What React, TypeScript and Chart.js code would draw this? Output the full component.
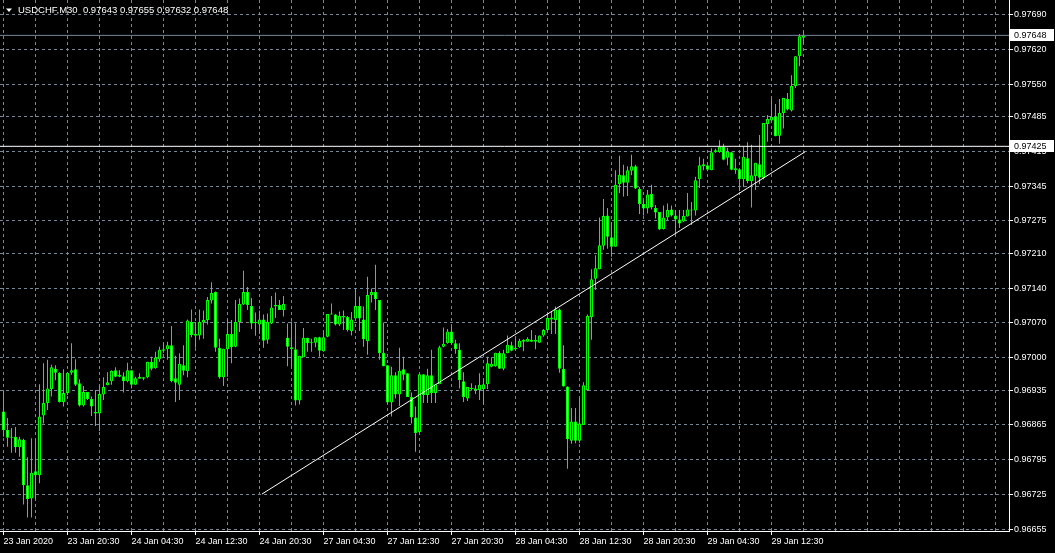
import React, { useEffect, useRef } from "react";
import { Chart, registerables } from "chart.js";

Chart.register(...registerables);

const SYMBOL = "USDCHF,M30";
const LAST_OHLC = ["0.97643", "0.97655", "0.97632", "0.97648"];

const OPEN = [
  0.96892, 0.96855, 0.96839, 0.96841, 0.96820, 0.96835, 0.96744, 0.96717, 0.96772, 0.96764,
  0.96884, 0.96909, 0.96937, 0.96978, 0.96970, 0.96911, 0.96929, 0.96970, 0.96977, 0.96949,
  0.96904, 0.96931, 0.96917, 0.96891, 0.96888, 0.96926, 0.96945, 0.96953, 0.96975, 0.96966,
  0.96963, 0.96953, 0.96975, 0.96946, 0.96958, 0.96958, 0.96961, 0.96992, 0.96979, 0.96997,
  0.97014, 0.97017, 0.97025, 0.96959, 0.96946, 0.96985, 0.96973, 0.97072, 0.97048, 0.97045,
  0.97071, 0.97076, 0.97115, 0.97132, 0.97020, 0.96961, 0.97017, 0.97048, 0.97022, 0.97072,
  0.97107, 0.97132, 0.97104, 0.97072, 0.97067, 0.97077, 0.97036, 0.97069, 0.97106, 0.97106,
  0.97096, 0.97040, 0.97021, 0.97017, 0.96914, 0.97001, 0.97040, 0.97030, 0.97030, 0.97041,
  0.97013, 0.97042, 0.97087, 0.97087, 0.97067, 0.97084, 0.97082, 0.97054, 0.97079, 0.97104,
  0.97077, 0.97033, 0.97126, 0.97132, 0.97116, 0.97010, 0.96985, 0.96910, 0.96965, 0.96926,
  0.96977, 0.96969, 0.96921, 0.96880, 0.96851, 0.96967, 0.96925, 0.96965, 0.96929, 0.96947,
  0.97022, 0.97029, 0.97053, 0.97029, 0.97016, 0.96953, 0.96918, 0.96939, 0.96938, 0.96935,
  0.96937, 0.96947, 0.96982, 0.96983, 0.97010, 0.96978, 0.97009, 0.97025, 0.97020, 0.97021,
  0.97036, 0.97032, 0.97036, 0.97032, 0.97030, 0.97045, 0.97056, 0.97077, 0.97076, 0.97097,
  0.96978, 0.96942, 0.96833, 0.96872, 0.96833, 0.96865, 0.96935, 0.97082, 0.97159, 0.97178,
  0.97225, 0.97286, 0.97242, 0.97223, 0.97349, 0.97367, 0.97352, 0.97376, 0.97385, 0.97339,
  0.97309, 0.97300, 0.97329, 0.97301, 0.97293, 0.97259, 0.97282, 0.97298, 0.97286, 0.97278,
  0.97274, 0.97284, 0.97298, 0.97296, 0.97359, 0.97385, 0.97387, 0.97377, 0.97413, 0.97413,
  0.97424, 0.97402, 0.97413, 0.97381, 0.97379, 0.97359, 0.97401, 0.97355, 0.97365, 0.97389,
  0.97362, 0.97470, 0.97477, 0.97485, 0.97446, 0.97492, 0.97520, 0.97497, 0.97546, 0.97606,
  0.97643,
];

const HIGH = [
  0.96932, 0.96879, 0.96859, 0.96861, 0.96841, 0.96837, 0.96800, 0.96838, 0.96835, 0.96947,
  0.96989, 0.96996, 0.96986, 0.96985, 0.96971, 0.96977, 0.96971, 0.97029, 0.96997, 0.96957,
  0.96943, 0.96931, 0.96922, 0.96935, 0.96942, 0.96961, 0.96971, 0.96975, 0.96981, 0.96975,
  0.96971, 0.96990, 0.96975, 0.96962, 0.96969, 0.96961, 0.96992, 0.97002, 0.97012, 0.97022,
  0.97030, 0.97032, 0.97064, 0.97004, 0.97009, 0.97025, 0.97077, 0.97097, 0.97072, 0.97097,
  0.97095, 0.97122, 0.97152, 0.97133, 0.97038, 0.97018, 0.97076, 0.97076, 0.97116, 0.97119,
  0.97175, 0.97142, 0.97120, 0.97091, 0.97095, 0.97087, 0.97089, 0.97124, 0.97131, 0.97116,
  0.97124, 0.97069, 0.97073, 0.97069, 0.97004, 0.97060, 0.97040, 0.97038, 0.97041, 0.97042,
  0.97054, 0.97088, 0.97109, 0.97088, 0.97093, 0.97095, 0.97084, 0.97092, 0.97139, 0.97123,
  0.97103, 0.97163, 0.97139, 0.97187, 0.97116, 0.97071, 0.96985, 0.96982, 0.96971, 0.97020,
  0.97002, 0.96969, 0.96930, 0.96902, 0.96967, 0.96967, 0.96978, 0.97016, 0.96947, 0.97024,
  0.97061, 0.97058, 0.97062, 0.97036, 0.97029, 0.96971, 0.96941, 0.96949, 0.96945, 0.96969,
  0.96959, 0.97002, 0.97001, 0.97010, 0.97013, 0.97016, 0.97045, 0.97032, 0.97041, 0.97038,
  0.97037, 0.97041, 0.97056, 0.97046, 0.97045, 0.97058, 0.97088, 0.97092, 0.97103, 0.97099,
  0.97025, 0.96942, 0.96899, 0.96899, 0.96919, 0.96951, 0.97087, 0.97178, 0.97206, 0.97282,
  0.97319, 0.97301, 0.97273, 0.97377, 0.97406, 0.97388, 0.97385, 0.97408, 0.97388, 0.97343,
  0.97317, 0.97337, 0.97348, 0.97307, 0.97293, 0.97306, 0.97310, 0.97306, 0.97297, 0.97297,
  0.97297, 0.97331, 0.97313, 0.97364, 0.97404, 0.97400, 0.97387, 0.97421, 0.97420, 0.97437,
  0.97430, 0.97422, 0.97414, 0.97400, 0.97379, 0.97424, 0.97433, 0.97428, 0.97392, 0.97448,
  0.97472, 0.97488, 0.97520, 0.97510, 0.97520, 0.97522, 0.97532, 0.97568, 0.97606, 0.97651,
  0.97655,
];

const LOW = [
  0.96841, 0.96821, 0.96809, 0.96809, 0.96801, 0.96705, 0.96679, 0.96679, 0.96716, 0.96748,
  0.96868, 0.96895, 0.96922, 0.96955, 0.96910, 0.96902, 0.96925, 0.96966, 0.96943, 0.96902,
  0.96902, 0.96915, 0.96883, 0.96863, 0.96853, 0.96915, 0.96945, 0.96946, 0.96961, 0.96961,
  0.96930, 0.96951, 0.96938, 0.96946, 0.96958, 0.96955, 0.96959, 0.96975, 0.96978, 0.96992,
  0.97010, 0.96996, 0.96951, 0.96911, 0.96915, 0.96965, 0.96961, 0.97041, 0.97020, 0.97036,
  0.97038, 0.97067, 0.97109, 0.97012, 0.96958, 0.96943, 0.96962, 0.96989, 0.97021, 0.97052,
  0.97106, 0.97096, 0.97058, 0.97044, 0.97048, 0.97020, 0.97028, 0.97068, 0.97080, 0.97096,
  0.97083, 0.96983, 0.96982, 0.96904, 0.96906, 0.97001, 0.97012, 0.97012, 0.97021, 0.97002,
  0.97012, 0.97041, 0.97087, 0.97065, 0.97064, 0.97056, 0.97053, 0.97045, 0.97077, 0.97054,
  0.97022, 0.97006, 0.97111, 0.97096, 0.96996, 0.96983, 0.96907, 0.96882, 0.96918, 0.96903,
  0.96955, 0.96921, 0.96868, 0.96811, 0.96849, 0.96909, 0.96909, 0.96909, 0.96909, 0.96947,
  0.97021, 0.97028, 0.97028, 0.97008, 0.96938, 0.96911, 0.96913, 0.96934, 0.96927, 0.96915,
  0.96906, 0.96937, 0.96981, 0.96982, 0.96978, 0.96975, 0.97009, 0.97013, 0.97016, 0.97020,
  0.97013, 0.97032, 0.97032, 0.97017, 0.97030, 0.97042, 0.97054, 0.97048, 0.97048, 0.96970,
  0.96942, 0.96777, 0.96827, 0.96828, 0.96829, 0.96865, 0.96933, 0.97036, 0.97136, 0.97178,
  0.97217, 0.97219, 0.97203, 0.97223, 0.97331, 0.97324, 0.97325, 0.97367, 0.97339, 0.97289,
  0.97286, 0.97290, 0.97298, 0.97280, 0.97257, 0.97258, 0.97277, 0.97284, 0.97251, 0.97261,
  0.97273, 0.97284, 0.97267, 0.97286, 0.97341, 0.97377, 0.97375, 0.97377, 0.97412, 0.97412,
  0.97397, 0.97387, 0.97377, 0.97370, 0.97335, 0.97343, 0.97351, 0.97302, 0.97337, 0.97349,
  0.97359, 0.97434, 0.97477, 0.97445, 0.97430, 0.97461, 0.97497, 0.97495, 0.97542, 0.97586,
  0.97632,
];

const CLOSE = [
  0.96855, 0.96839, 0.96841, 0.96820, 0.96836, 0.96744, 0.96716, 0.96769, 0.96764, 0.96882,
  0.96909, 0.96938, 0.96981, 0.96970, 0.96911, 0.96929, 0.96970, 0.96975, 0.96946, 0.96904,
  0.96931, 0.96917, 0.96902, 0.96888, 0.96927, 0.96941, 0.96951, 0.96974, 0.96962, 0.96962,
  0.96953, 0.96975, 0.96946, 0.96959, 0.96962, 0.96961, 0.96992, 0.96978, 0.97001, 0.97016,
  0.97017, 0.97025, 0.96953, 0.96950, 0.96988, 0.96974, 0.97075, 0.97046, 0.97044, 0.97072,
  0.97076, 0.97116, 0.97130, 0.97020, 0.96961, 0.97018, 0.97048, 0.97021, 0.97072, 0.97108,
  0.97132, 0.97106, 0.97069, 0.97070, 0.97077, 0.97034, 0.97072, 0.97101, 0.97103, 0.97096,
  0.97108, 0.97022, 0.97017, 0.96914, 0.97004, 0.97040, 0.97029, 0.97029, 0.97041, 0.97014,
  0.97041, 0.97088, 0.97089, 0.97067, 0.97084, 0.97081, 0.97056, 0.97077, 0.97104, 0.97079,
  0.97037, 0.97126, 0.97132, 0.97118, 0.97009, 0.96983, 0.96910, 0.96965, 0.96926, 0.96974,
  0.96966, 0.96921, 0.96880, 0.96849, 0.96967, 0.96925, 0.96965, 0.96929, 0.96947, 0.97021,
  0.97028, 0.97053, 0.97029, 0.97017, 0.96955, 0.96921, 0.96941, 0.96937, 0.96934, 0.96946,
  0.96947, 0.96989, 0.96988, 0.97010, 0.96978, 0.97009, 0.97026, 0.97014, 0.97017, 0.97034,
  0.97032, 0.97038, 0.97032, 0.97036, 0.97045, 0.97056, 0.97080, 0.97081, 0.97097, 0.96978,
  0.96942, 0.96836, 0.96872, 0.96833, 0.96868, 0.96945, 0.97084, 0.97158, 0.97180, 0.97226,
  0.97285, 0.97243, 0.97223, 0.97348, 0.97368, 0.97352, 0.97377, 0.97385, 0.97340, 0.97309,
  0.97300, 0.97328, 0.97302, 0.97292, 0.97258, 0.97282, 0.97297, 0.97286, 0.97278, 0.97270,
  0.97285, 0.97298, 0.97296, 0.97357, 0.97387, 0.97389, 0.97378, 0.97413, 0.97417, 0.97424,
  0.97398, 0.97414, 0.97378, 0.97377, 0.97359, 0.97404, 0.97355, 0.97367, 0.97392, 0.97362,
  0.97472, 0.97480, 0.97484, 0.97445, 0.97492, 0.97522, 0.97499, 0.97546, 0.97606, 0.97646,
  0.97648,
];

const X_GRID_BARS = [
  0, 8, 16, 24, 32, 40, 48, 56, 64, 72, 80, 88, 96, 104, 112, 120,
  128, 136, 144, 152, 160, 168, 176, 184, 192, 200, 208, 216, 224, 232, 240, 248,
];
const X_LABEL_BARS = [0, 16, 32, 48, 64, 80, 96, 112, 128, 144, 160, 176, 192];
const X_TICK_LABELS = [
  "23 Jan 2020", "23 Jan 20:30", "24 Jan 04:30", "24 Jan 12:30", "24 Jan 20:30",
  "27 Jan 04:30", "27 Jan 12:30", "27 Jan 20:30", "28 Jan 04:30", "28 Jan 12:30",
  "28 Jan 20:30", "29 Jan 04:30", "29 Jan 12:30",
];

const Y_TICK_VALUES = [
  0.96655, 0.96725, 0.96795, 0.96865, 0.96935, 0.97000, 0.97070, 0.97140,
  0.97210, 0.97275, 0.97345, 0.97415, 0.97485, 0.97550, 0.97620, 0.97690,
];
const Y_TICK_LABELS = [
  "0.96655", "0.96725", "0.96795", "0.96865", "0.96935", "0.97000", "0.97070", "0.97140",
  "0.97210", "0.97275", "0.97345", "0.97415", "0.97485", "0.97550", "0.97620", "0.97690",
];

const BID_PRICE = 0.97648;
const LEVEL_PRICE = 0.97425;
const TREND_BARS = [64.6, 200.4];
const TREND_PRICES = [0.96726, 0.97414];

const FONT = '"Liberation Sans", Arial, sans-serif';
const LIME = "#00ff00";
const GRID = "#778899";

export default function App() {
  const ref = useRef<HTMLCanvasElement>(null);

  useEffect(() => {
    document.body.style.margin = "0";
    document.body.style.background = "#000";
    const canvas = ref.current;
    if (!canvas) return;

    const X_MIN = -0.875;
    const X_MAX = 251.375;
    const Y_MIN = 0.966518;
    const Y_MAX = 0.977191;

    const idx = OPEN.map((_, i) => i);
    const bodyData = idx.map((i) => ({ x: i, y: [OPEN[i], CLOSE[i]] }));
    const wickData = idx.map((i) => ({ x: i, y: [LOW[i], HIGH[i]] }));
    const bodyFill = idx.map((i) => (CLOSE[i] >= OPEN[i] ? "#000000" : "#ffffff"));

    const overlay = {
      id: "mt4overlay",
      afterDraw(chart: any) {
        const { ctx, scales } = chart;
        const ys = scales.y;
        ctx.save();
        ctx.fillStyle = "#ffffff";
        ctx.beginPath();
        ctx.moveTo(6, 8.5);
        ctx.lineTo(12, 8.5);
        ctx.lineTo(9, 12);
        ctx.closePath();
        ctx.fill();
        ctx.font = `9.5px ${FONT}`;
        ctx.textBaseline = "middle";
        ctx.textAlign = "left";
        ctx.fillText(`${SYMBOL}  ${LAST_OHLC.join(" ")}`, 18, 10.5);

        ctx.font = `9px ${FONT}`;
        const box = (price: number) => {
          const py = Math.round(ys.getPixelForValue(price));
          ctx.fillStyle = "#ffffff";
          ctx.fillRect(1010, py - 6, 44, 12);
          ctx.fillStyle = "#000000";
          ctx.fillText(price.toFixed(5), 1014, py + 0.5);
        };
        box(BID_PRICE);
        box(LEVEL_PRICE);
        ctx.restore();
      },
    };

    const chart = new Chart(canvas, {
      type: "bar",
      data: {
        datasets: [
          {
            type: "line",
            label: "bid",
            data: [
              { x: X_MIN, y: BID_PRICE },
              { x: X_MAX, y: BID_PRICE },
            ],
            borderColor: GRID,
            borderWidth: 1,
            pointRadius: 0,
            order: 0,
          } as any,
          {
            type: "line",
            label: "level",
            data: [
              { x: X_MIN, y: LEVEL_PRICE },
              { x: X_MAX, y: LEVEL_PRICE },
            ],
            borderColor: "#ffffff",
            borderWidth: 1,
            pointRadius: 0,
            order: 0,
          } as any,
          {
            type: "line",
            label: "trend",
            data: [
              { x: TREND_BARS[0], y: TREND_PRICES[0] },
              { x: TREND_BARS[1], y: TREND_PRICES[1] },
            ],
            borderColor: "#ffffff",
            borderWidth: 1,
            pointRadius: 0,
            order: 0,
          } as any,
          {
            type: "bar",
            label: "body",
            data: bodyData,
            backgroundColor: bodyFill,
            borderColor: LIME,
            borderWidth: 1,
            borderSkipped: false,
            barThickness: 3,
            grouped: false,
            minBarLength: 1,
            inflateAmount: 0,
            order: 1,
          } as any,
          {
            type: "bar",
            label: "wick",
            data: wickData,
            backgroundColor: LIME,
            borderWidth: 0,
            barThickness: 1,
            grouped: false,
            inflateAmount: 0,
            order: 2,
          } as any,
        ],
      },
      options: {
        animation: false,
        responsive: false,
        events: [],
        layout: { padding: 0 },
        plugins: {
          legend: { display: false },
          tooltip: { enabled: false },
        },
        scales: {
          x: {
            type: "linear",
            position: "bottom",
            min: X_MIN,
            max: X_MAX,
            offset: false,
            bounds: "data",
            afterBuildTicks: (s: any) => {
              s.ticks = X_GRID_BARS.map((v) => ({ value: v }));
            },
            afterFit: (s: any) => {
              s.height = 22;
              s.paddingLeft = 0;
              s.paddingRight = 0;
            },
            grid: {
              color: GRID,
              lineWidth: 1,
              drawTicks: true,
              tickLength: 4,
              tickColor: (c: any) =>
                c.tick && X_LABEL_BARS.includes(c.tick.value) ? "#ffffff" : "rgba(0,0,0,0)",
              tickBorderDash: [],
              offset: false,
            },
            border: { display: true, color: "#ffffff", width: 1, dash: [3, 3] },
            ticks: {
              autoSkip: false,
              maxRotation: 0,
              minRotation: 0,
              align: "start",
              padding: 1,
              color: "#ffffff",
              font: { family: FONT, size: 9 },
              callback: (v: any) => {
                const k = X_LABEL_BARS.indexOf(Number(v));
                return k >= 0 ? X_TICK_LABELS[k] : "";
              },
            },
          } as any,
          y: {
            type: "linear",
            position: "right",
            min: Y_MIN,
            max: Y_MAX,
            bounds: "data",
            afterBuildTicks: (s: any) => {
              s.ticks = Y_TICK_VALUES.map((v) => ({ value: v }));
            },
            afterFit: (s: any) => {
              s.width = 46;
              s.paddingTop = 0;
              s.paddingBottom = 0;
            },
            grid: {
              color: GRID,
              lineWidth: 1,
              tickLength: 4,
              tickColor: "#ffffff",
              tickBorderDash: [],
            },
            border: { display: true, color: "#ffffff", width: 1, dash: [3, 3] },
            ticks: {
              autoSkip: false,
              padding: 1,
              crossAlign: "near",
              color: "#ffffff",
              font: { family: FONT, size: 9 },
              callback: (_v: any, i: number) => Y_TICK_LABELS[i],
            },
          } as any,
        },
      },
      plugins: [overlay],
    });

    return () => chart.destroy();
  }, []);

  return (
    <div
      style={{
        position: "fixed",
        left: 0,
        top: 0,
        width: 1055,
        height: 553,
        background: "#000",
      }}
    >
      <canvas
        ref={ref}
        width={1055}
        height={553}
        style={{ display: "block", width: 1055, height: 553 }}
      />
    </div>
  );
}
